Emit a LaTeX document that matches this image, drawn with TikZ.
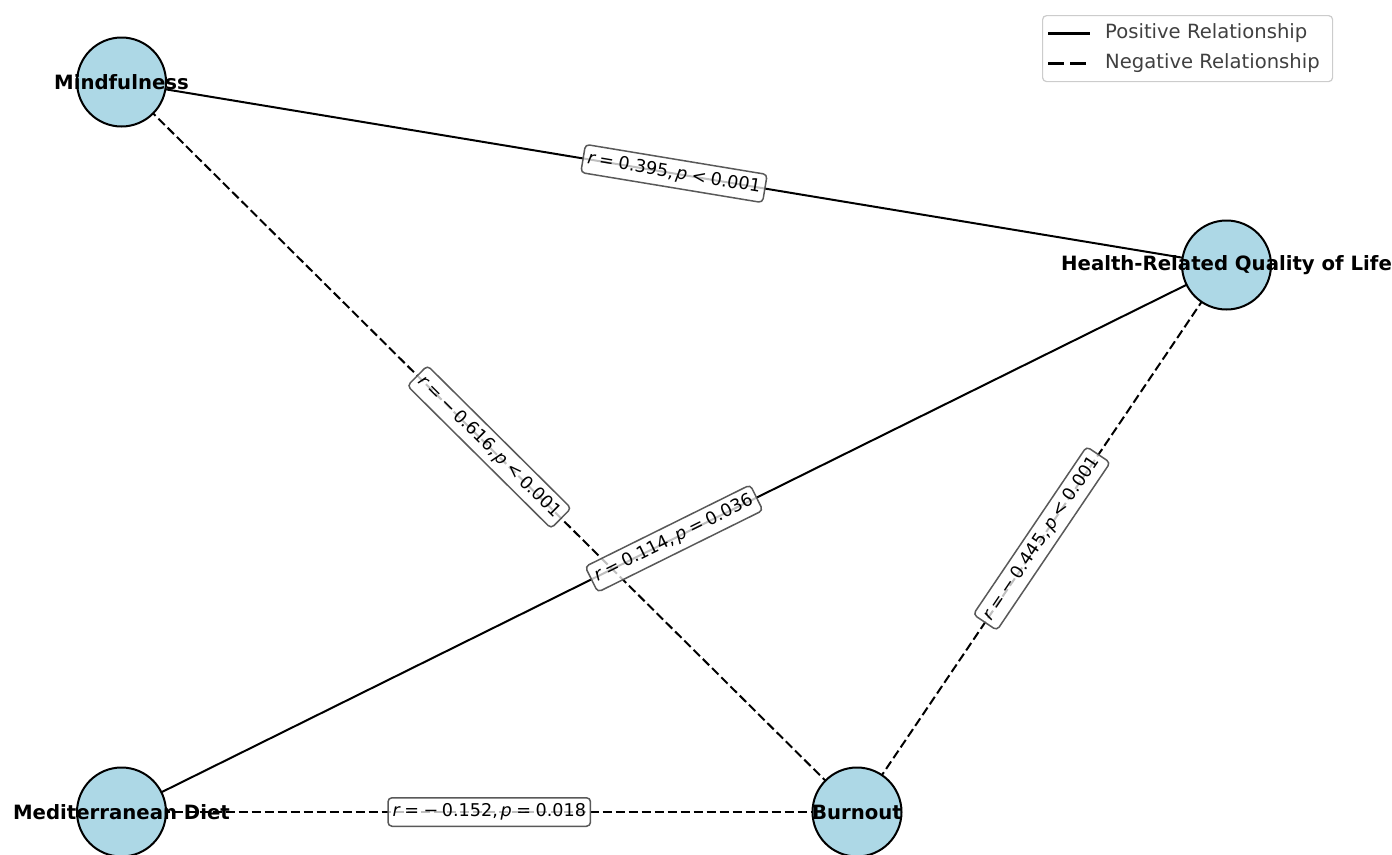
\documentclass[tikz,border=0pt]{standalone}
\usepackage{fontspec}
\setmainfont{DejaVu Sans}
\usetikzlibrary{backgrounds}
\definecolor{nodeblue}{HTML}{ADD8E6}
\newcommand\eqsp{\hspace{0.26em}}
\newcommand\mnsp{\hspace{0.2em}}
\newcommand\cmsp{\hspace{0.15em}}
\begin{document}
\begin{tikzpicture}[x=1pt,y=-1pt,
  vert/.style={circle, draw=black, line width=2pt, fill=nodeblue, minimum size=89pt, inner sep=0pt},
  vlabel/.style={font=\fontsize{19.7}{20}\selectfont\bfseries, text=black, inner sep=0pt},
  rel/.style={line width=2pt, draw=black},
  posrel/.style={rel},
  negrel/.style={rel, dash pattern=on 9pt off 4pt},
  stat/.style={sloped, pos=0.5, solid, draw=black!65, line width=1.5pt, rounded corners=4pt, fill=white, fill opacity=0.75, text opacity=1, draw opacity=1, inner xsep=4.5pt, inner ysep=6pt, text height=13pt, text depth=3.5pt, font=\fontsize{17.6}{18}\selectfont},
  legtext/.style={anchor=west, font=\fontsize{19.6}{20}\selectfont, text=black!75, inner sep=0pt},
]
\useasboundingbox (0,0) rectangle (1392,854);

% vertices
\node[vert, label={[vlabel]center:Mindfulness}] (m) at (121.5,82) {};
\node[vert, label={[vlabel]center:Health-Related Quality of Life}] (h) at (1226.5,265) {};
\node[vert, label={[vlabel]center:Mediterranean Diet}] (d) at (121.5,812) {};
\node[vert, label={[vlabel]center:Burnout}] (b) at (857,812) {};

% edges
\begin{scope}[on background layer]
\draw[posrel] (m.center) -- node[stat] {\itshape r\upshape\eqsp=\eqsp0.395,\cmsp\itshape p\upshape\eqsp<\eqsp0.001} (h.center);
\draw[negrel] (m.center) -- node[stat] {\itshape r\upshape\eqsp=\eqsp−\mnsp0.616,\cmsp\itshape p\upshape\eqsp<\eqsp0.001} (b.center);
\draw[posrel] (d.center) -- node[stat] {\itshape r\upshape\eqsp=\eqsp0.114,\cmsp\itshape p\upshape\eqsp=\eqsp0.036} (h.center);
\draw[negrel] (b.center) -- node[stat] {\itshape r\upshape\eqsp=\eqsp−\mnsp0.445,\cmsp\itshape p\upshape\eqsp<\eqsp0.001} (h.center);
\draw[negrel] (d.center) -- node[stat] {\itshape r\upshape\eqsp=\eqsp−\mnsp0.152,\cmsp\itshape p\upshape\eqsp=\eqsp0.018} (b.center);
\end{scope}

% legend
\node[draw=black!20, line width=1.2pt, rounded corners=4pt, fill=white, minimum width=290pt, minimum height=66pt, anchor=north west, inner sep=0pt] (leg) at (1042,15) {};
\coordinate (pa) at (1048,33);
\coordinate (pb) at (1090,33);
\coordinate (na) at (1048,63);
\coordinate (nb) at (1090,63);
\draw[line width=3pt] (pa) -- (pb);
\draw[line width=3pt, dash pattern=on 16pt off 6pt] (na) -- (nb);
\node[legtext] (lp) at (1105,33) {Positive Relationship};
\node[legtext] (ln) at (1105,63) {Negative Relationship};
\end{tikzpicture}
\end{document}
